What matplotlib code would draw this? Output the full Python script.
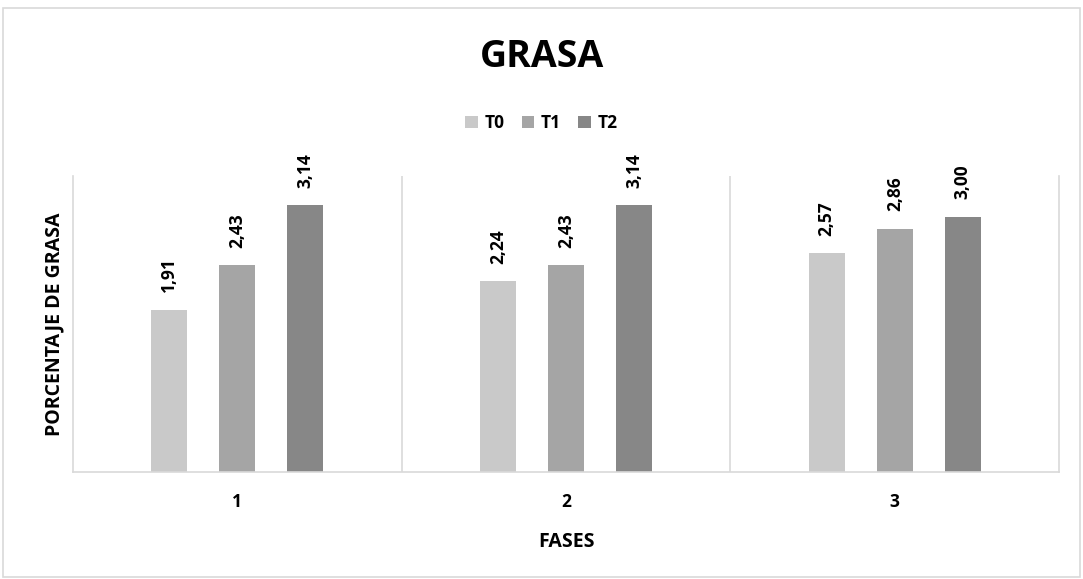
import matplotlib.pyplot as plt
import numpy as np

fases = ["1", "2", "3"]
series = ["T0", "T1", "T2"]
t0 = [1.91, 2.24, 2.57]
t1 = [2.43, 2.43, 2.86]
t2 = [3.14, 3.14, 3.00]
colors = ["#C9C9C9", "#A5A5A5", "#878787"]

plt.rcParams['font.family'] = ['Open Sans', 'DejaVu Sans']

fig = plt.figure(figsize=(10.83, 5.79), dpi=100)
ax = fig.add_axes([0.0674, 0.1848, 0.9106, 0.5112])

# figure border
fig.patches.append(plt.Rectangle((0.003, 0.003), 0.994, 0.983, transform=fig.transFigure,
                                 fill=False, edgecolor="#D9D9D9", linewidth=1.2))

x = np.arange(len(fases))
width = 0.109
step = 0.207
for i, (vals, name, c) in enumerate(zip([t0, t1, t2], series, colors)):
    bars = ax.bar(x + (i - 1) * step, vals, width, color=c, label=name)
    for b, v in zip(bars, vals):
        ax.annotate(f"{v:.2f}".replace(".", ","), (b.get_x() + b.get_width() / 2, v),
                    xytext=(0, 12.5), textcoords="offset points", rotation=90,
                    ha="center", va="bottom", fontsize=12.5, fontweight="bold")

ax.set_xlim(-0.5, 2.5)
ax.set_ylim(0, 3.48)
ax.set_yticks([])
ax.set_xticks(x)
ax.set_xticklabels(fases, fontsize=12.5, fontweight="bold")
ax.tick_params(axis="x", length=0, pad=15)

for s in ["left", "right", "bottom"]:
    ax.spines[s].set_color("#D9D9D9")
    ax.spines[s].set_linewidth(1.2)
ax.spines["top"].set_visible(False)
for xv in [0.5, 1.5]:
    ax.axvline(xv, color="#D9D9D9", linewidth=1.2)

ax.set_xlabel("FASES", fontsize=14, fontweight="bold", labelpad=15)
ax.set_ylabel("PORCENTAJE DE GRASA", fontsize=14, fontweight="bold", labelpad=6)

fig.suptitle("GRASA", x=0.5, y=0.935, fontsize=27, fontweight="bold")
fig.legend(loc="center", bbox_to_anchor=(0.5, 0.787), ncol=3, frameon=False,
           prop={"weight": "bold", "size": 12.5}, handlelength=0.7, handleheight=0.7,
           handletextpad=0.4, columnspacing=1.0)

fig.savefig("out.png", dpi=100)
